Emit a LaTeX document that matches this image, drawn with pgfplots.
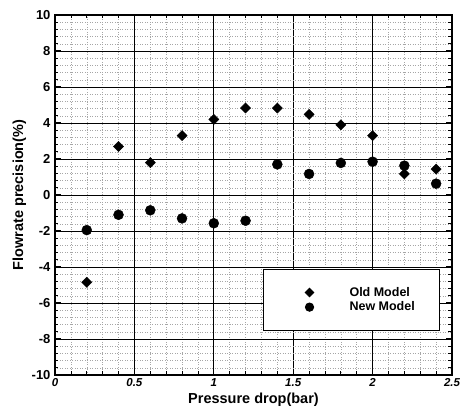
\documentclass[border=0pt]{standalone}
\usepackage{fontspec}
\setmainfont{Liberation Sans}
\usepackage{pgfplots}
\pgfplotsset{compat=1.18}

\begin{document}
\begin{tikzpicture}[x=1pt,y=1pt]
\begin{axis}[
    scale only axis,
    width=397pt, height=360pt,
    xmin=0, xmax=2.5, ymin=-10, ymax=10,
    xtick={0,0.5,...,2.5},
    ytick={-10,-8,...,10},
    minor x tick num=4,
    minor y tick num=4,
    tick align=inside,
    major tick length=6pt,
    minor tick length=3.5pt,
    axis line style={line width=1.8pt},
    major tick style={line width=1pt, black},
    minor tick style={line width=0.7pt, black},
    xmajorgrids, ymajorgrids, xminorgrids, yminorgrids,
    major grid style={line width=0.9pt, black},
    minor grid style={line width=0.5pt, gray!70, dotted},
    /pgf/number format/assume math mode=true,
    xticklabel style={font=\fontsize{11.5}{11.5}\selectfont\bfseries\itshape, anchor=base, yshift=-12pt},
    yticklabel style={font=\fontsize{13}{13}\selectfont\bfseries, xshift=-1pt},
    xlabel={\textbf{Pressure drop(bar)}},
    ylabel={\textbf{Flowrate precision(\%)}},
    label style={font=\fontsize{14.5}{14.5}\selectfont},
    xlabel style={at={(axis description cs:0.5,0)}, anchor=base, yshift=-29pt},
    ylabel style={at={(axis description cs:-0.09,0.5)}, anchor=center},
    legend style={at={(axis cs:1.31,-4.1)}, anchor=north west,
        draw=black, line width=1pt, fill=white,
        font=\fontsize{12.5}{12.5}\selectfont\bfseries,
        inner xsep=0pt, inner ysep=16pt,
        legend cell align=left, row sep=0pt,
        /tikz/every even column/.append style={column sep=0pt}},
    legend image code/.code={\path[draw=none] (0pt,0pt) -- (84pt,0pt);
        \draw[#1, every mark/.append style={scale=0.82}] plot[only marks] coordinates {(46pt,0pt)};},
]
\addplot[only marks, mark=square*, mark size=3.6pt, black,
    mark options={rotate=45}] coordinates {
    (0.2,-4.85) (0.4,2.7) (0.6,1.8) (0.8,3.3) (1.0,4.2) (1.2,4.83)
    (1.4,4.83) (1.6,4.48) (1.8,3.9) (2.0,3.3) (2.2,1.17) (2.4,1.44)
};
\addlegendentry{\makebox[88pt][l]{Old Model}}
\addplot[only marks, mark=*, mark size=5pt, black] coordinates {
    (0.2,-1.95) (0.4,-1.1) (0.6,-0.85) (0.8,-1.3) (1.0,-1.57) (1.2,-1.43)
    (1.4,1.7) (1.6,1.17) (1.8,1.78) (2.0,1.85) (2.2,1.63) (2.4,0.63)
};
\addlegendentry{\makebox[88pt][l]{New Model}}
\end{axis}
\pgfresetboundingbox
\useasboundingbox ([xshift=-55pt,yshift=15pt]current axis.north west)
    rectangle ([xshift=12pt,yshift=-40pt]current axis.south east);
\end{tikzpicture}
\end{document}
